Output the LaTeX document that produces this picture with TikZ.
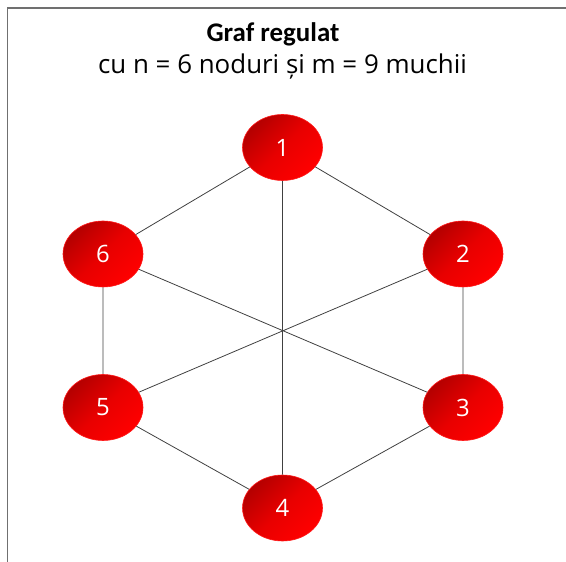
\documentclass[tikz,border=0pt]{standalone}
\usepackage{fontspec}
\setmainfont{Carlito}
\newfontfamily\subfont{Open Sans}
\usetikzlibrary{shapes.geometric}
\definecolor{nodedark}{HTML}{B40000}
\definecolor{nodemid}{HTML}{E80000}
\definecolor{nodelight}{HTML}{FF0000}
\definecolor{edgegray}{HTML}{404040}
\definecolor{framegray}{HTML}{707070}
\tikzset{
  vtx/.style={ellipse, minimum width=80bp, minimum height=66bp, inner sep=0pt,
    draw=red!90!white, line width=0.6pt,
    shading=axis, top color=nodedark, bottom color=nodelight, middle color=nodemid, shading angle=45,
    text=white, font=\subfont\fontsize{24}{24}\selectfont},
  edge/.style={draw=edgegray, line width=0.8pt},
  frame/.style={draw=framegray, line width=1.2pt}
}
\begin{document}
\begin{tikzpicture}[x=1bp,y=1bp]
\useasboundingbox (0,0) rectangle (566,562);
\draw[frame] (7.5,0) -- (7.5,554) -- (566,554);
\node[font=\bfseries\fontsize{27}{27}\selectfont, anchor=base] (t1) at (273,520.3) {Graf regulat};
\node[font=\subfont\fontsize{26}{26}\selectfont, anchor=base] (t2) at (282.5,488) {cu n = 6 noduri și m = 9 muchii};
\node[vtx] (n1) at (282.5,414.5) {1};
\node[vtx] (n2) at (463,308) {2};
\node[vtx] (n3) at (463,154.5) {3};
\node[vtx] (n4) at (282.5,54) {4};
\node[vtx] (n5) at (103,154.5) {5};
\node[vtx] (n6) at (103,308) {6};
\path[edge] (n1) -- (n2) (n2) -- (n3) (n3) -- (n4) (n4) -- (n5) (n5) -- (n6) (n6) -- (n1)
  (n1) -- (n4) (n2) -- (n5) (n3) -- (n6);
\end{tikzpicture}
\end{document}
